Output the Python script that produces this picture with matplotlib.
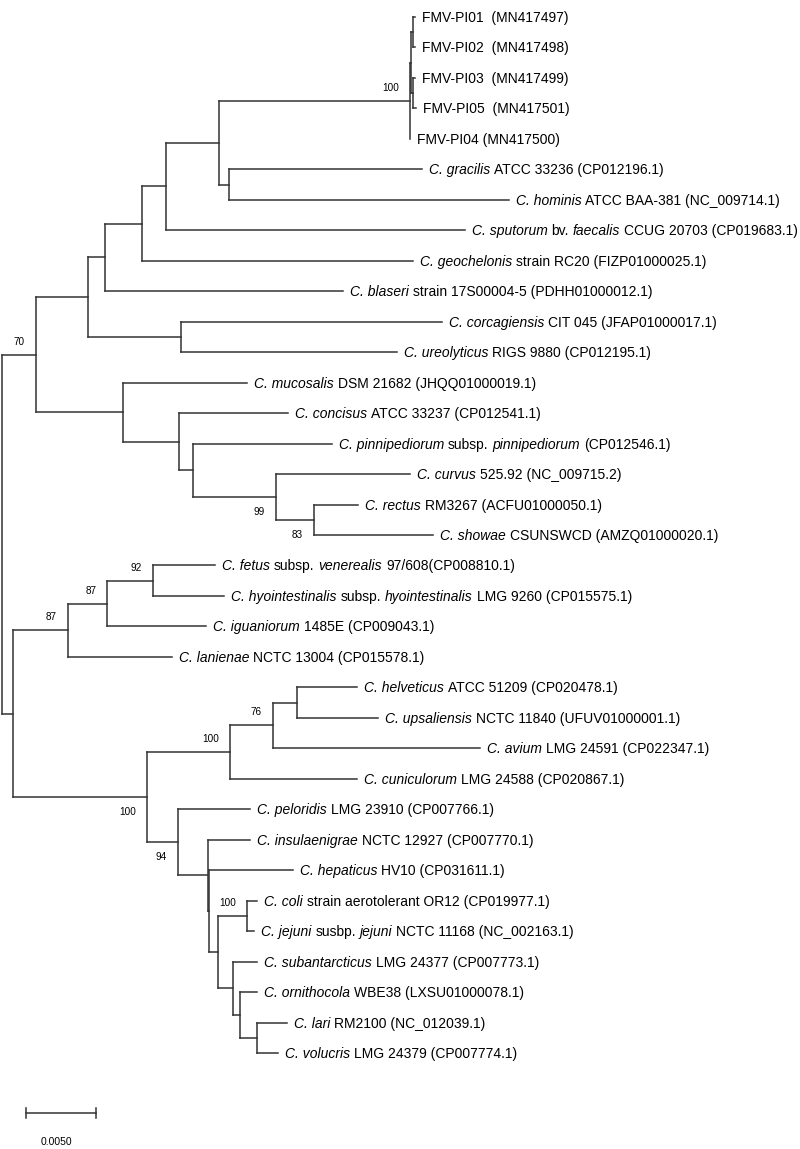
import matplotlib
matplotlib.use('Agg')
import matplotlib.pyplot as plt
from matplotlib.collections import LineCollection
from matplotlib.transforms import offset_copy

plt.rcParams['font.family'] = ['Liberation Sans', 'DejaVu Sans']

# ---------------- data ----------------
tip_labels = [
    "FMV-PI01  (MN417497)",
    "FMV-PI02  (MN417498)",
    "FMV-PI03  (MN417499)",
    "FMV-PI05  (MN417501)",
    "FMV-PI04 (MN417500)",
    "*C. gracilis* ATCC 33236 (CP012196.1)",
    "*C. hominis* ATCC BAA-381 (NC_009714.1)",
    "*C. sputorum* bv. *faecalis* CCUG 20703 (CP019683.1)",
    "*C. geochelonis* strain RC20 (FIZP01000025.1)",
    "*C. blaseri* strain 17S00004-5 (PDHH01000012.1)",
    "*C. corcagiensis* CIT 045 (JFAP01000017.1)",
    "*C. ureolyticus* RIGS 9880 (CP012195.1)",
    "*C. mucosalis* DSM 21682 (JHQQ01000019.1)",
    "*C. concisus* ATCC 33237 (CP012541.1)",
    "*C. pinnipediorum* subsp. *pinnipediorum* (CP012546.1)",
    "*C. curvus* 525.92 (NC_009715.2)",
    "*C. rectus* RM3267 (ACFU01000050.1)",
    "*C. showae* CSUNSWCD (AMZQ01000020.1)",
    "*C. fetus* subsp. *venerealis* 97/608(CP008810.1)",
    "*C. hyointestinalis* subsp. *hyointestinalis* LMG 9260 (CP015575.1)",
    "*C. iguaniorum* 1485E (CP009043.1)",
    "*C. lanienae* NCTC 13004 (CP015578.1)",
    "*C. helveticus* ATCC 51209 (CP020478.1)",
    "*C. upsaliensis* NCTC 11840 (UFUV01000001.1)",
    "*C. avium* LMG 24591 (CP022347.1)",
    "*C. cuniculorum* LMG 24588 (CP020867.1)",
    "*C. peloridis* LMG 23910 (CP007766.1)",
    "*C. insulaenigrae* NCTC 12927 (CP007770.1)",
    "*C. hepaticus* HV10 (CP031611.1)",
    "*C. coli* strain aerotolerant OR12 (CP019977.1)",
    "*C. jejuni* susbp. *jejuni* NCTC 11168 (NC_002163.1)",
    "*C. subantarcticus* LMG 24377 (CP007773.1)",
    "*C. ornithocola* WBE38 (LXSU01000078.1)",
    "*C. lari* RM2100 (NC_012039.1)",
    "*C. volucris* LMG 24379 (CP007774.1)",
]
tip_parent = [
    "fmv12", "fmv12", "fmv35", "fmv35", "fmv",
    "grho", "grho", "d", "e", "f", "h", "h",
    "j", "k", "l", "m", "n", "n",
    "r", "r", "q", "o",
    "v", "v", "u", "t",
    "s", "w", "x", "cj", "cj", "z", "aa", "bb", "bb",
]
tip_branch = [
    0.00014, 0.00018, 0.00018, 0.00021, 0.00004,
    0.01379, 0.02000, 0.02136, 0.01936, 0.01700, 0.01864, 0.01543,
    0.00886, 0.00779, 0.00993, 0.00957, 0.00314, 0.00850,
    0.00443, 0.00507, 0.00707, 0.00743,
    0.00429, 0.00579, 0.01479, 0.00907,
    0.00514, 0.00300, 0.00596, 0.00071, 0.00050, 0.00171, 0.00121, 0.00214, 0.00150,
]

node_names = ["root", "up", "g", "f", "e", "d", "k1", "fmv", "fmv_sub", "fmv12",
              "fmv35", "grho", "h", "j", "k", "l", "m", "n",
              "low", "o", "q", "r", "p", "t", "u", "v", "s", "w", "x", "y2",
              "cj", "z", "aa", "bb"]
node_parent = [None, "root", "up", "g", "f", "e", "d", "k1", "fmv", "fmv_sub",
               "fmv_sub", "k1", "g", "up", "j", "k", "l", "m",
               "root", "low", "o", "q", "low", "p", "t", "u", "p", "s", "w", "x",
               "y2", "y2", "z", "aa"]
node_branch = [0.0, 0.00243, 0.00371, 0.00121, 0.00264, 0.00171, 0.00379, 0.01364, 0.00011, 0.00011,
               0.00011, 0.00071, 0.00664, 0.00621, 0.00400, 0.00100, 0.00593, 0.00271,
               0.00079, 0.00393, 0.00279, 0.00329, 0.00957, 0.00593, 0.00307, 0.00171, 0.00221, 0.00214, 0.00011, 0.00061,
               0.00207, 0.00107, 0.00050, 0.00121]

support_nodes = ["fmv", "up", "m", "n", "r", "q", "o", "u", "t", "p", "s", "cj"]
support_values = [100, 70, 99, 83, 92, 87, 87, 76, 100, 100, 94, 100]
support_below = [False, False, True, True, False, False, False, False, False, True, True, False]

scale_length = 0.0050
scale_label = "0.0050"

# ---------------- layout ----------------
W, H, DPI = 800, 1149, 100
PX_PER_UNIT = 14000.0
ROOT_PX = 2.0
ROW0_PX, ROW_STEP_PX = 17.0, 30.47
LINE_COLOR = '#333333'
LW = 1.1
FS_TIP = 10.0
FS_SUP = 7.2
FS_SCALE = 7.5

fig = plt.figure(figsize=(W / DPI, H / DPI), dpi=DPI)
ax = fig.add_axes([0, 0, 1, 1])
ax.set_xlim(-ROOT_PX / PX_PER_UNIT, (W - ROOT_PX) / PX_PER_UNIT)
ax.set_ylim((H - ROW0_PX) / ROW_STEP_PX, -ROW0_PX / ROW_STEP_PX)
ax.axis('off')

# build tree coordinates
parent_of = {}
branch_of = {}
for nm, pa, bl in zip(node_names, node_parent, node_branch):
    parent_of[nm] = pa
    branch_of[nm] = bl
tip_ids = [f"tip{i}" for i in range(len(tip_labels))]
for tid, pa, bl in zip(tip_ids, tip_parent, tip_branch):
    parent_of[tid] = pa
    branch_of[tid] = bl

children = {nm: [] for nm in parent_of}
for nm, pa in parent_of.items():
    if pa is not None:
        children[pa].append(nm)

xpos = {}
def depth(nm):
    if nm in xpos:
        return xpos[nm]
    pa = parent_of[nm]
    d = branch_of[nm] + (depth(pa) if pa is not None else 0.0)
    xpos[nm] = d
    return d
for nm in parent_of:
    depth(nm)

ypos = {tid: float(i) for i, tid in enumerate(tip_ids)}
def get_y(nm):
    if nm in ypos:
        return ypos[nm]
    ys = [get_y(c) for c in children[nm]]
    ypos[nm] = (min(ys) + max(ys)) / 2.0
    return ypos[nm]
for nm in parent_of:
    get_y(nm)

segs = []
for nm, pa in parent_of.items():
    if pa is not None:
        segs.append([(xpos[pa], ypos[nm]), (xpos[nm], ypos[nm])])
for nm in node_names:
    ys = [ypos[c] for c in children[nm]]
    segs.append([(xpos[nm], min(ys)), (xpos[nm], max(ys))])
ax.add_collection(LineCollection(segs, colors=LINE_COLOR, linewidths=LW,
                                 capstyle='projecting'))

# tip labels with italic parts
renderer = fig.canvas.get_renderer()

def text_width(s, style):
    t = ax.text(0, 0, s, fontsize=FS_TIP, style=style)
    w = t.get_window_extent(renderer).width
    t.remove()
    return w

space_w = {st: text_width("x x", st) - text_width("xx", st) for st in ("normal", "italic")}

base_dy = -0.36 * FS_TIP * DPI / 72.0
for tid, lab in zip(tip_ids, tip_labels):
    parts = lab.split('*')
    cur = 7.0
    for k, part in enumerate(parts):
        if part == "":
            continue
        style = 'italic' if k % 2 == 1 else 'normal'
        lead = len(part) - len(part.lstrip(' '))
        trail = len(part) - len(part.rstrip(' '))
        cur += lead * space_w[style]
        body = part.strip(' ')
        tr = offset_copy(ax.transData, fig=fig, x=cur, y=base_dy, units='dots')
        t = ax.text(xpos[tid], ypos[tid], body, fontsize=FS_TIP, style=style,
                    ha='left', va='baseline', transform=tr, color='black')
        cur += t.get_window_extent(renderer).width
        cur += trail * space_w[style]

# bootstrap support values
for nm, val, below in zip(support_nodes, support_values, support_below):
    dy = -15.0 if below else 13.0
    tr = offset_copy(ax.transData, fig=fig, x=-11.0, y=dy, units='dots')
    ax.text(xpos[nm], ypos[nm], str(val), fontsize=FS_SUP, ha='right', va='center',
            transform=tr, color='black')

# scale bar
sb_x0 = (26 - ROOT_PX) / PX_PER_UNIT
sb_y = (1113 - ROW0_PX) / ROW_STEP_PX
tick_h = 5.0 / ROW_STEP_PX
ax.plot([sb_x0, sb_x0 + scale_length], [sb_y, sb_y], color=LINE_COLOR, lw=LW)
ax.plot([sb_x0, sb_x0], [sb_y - tick_h, sb_y + tick_h], color=LINE_COLOR, lw=LW)
ax.plot([sb_x0 + scale_length, sb_x0 + scale_length], [sb_y - tick_h, sb_y + tick_h],
        color=LINE_COLOR, lw=LW)
lab_y = (1142 - ROW0_PX) / ROW_STEP_PX
ax.text(sb_x0 + scale_length / 2 - 5 / PX_PER_UNIT, lab_y, scale_label,
        fontsize=FS_SCALE, ha='center', va='center', color='black')

fig.savefig('out.png', dpi=DPI, facecolor='white')
